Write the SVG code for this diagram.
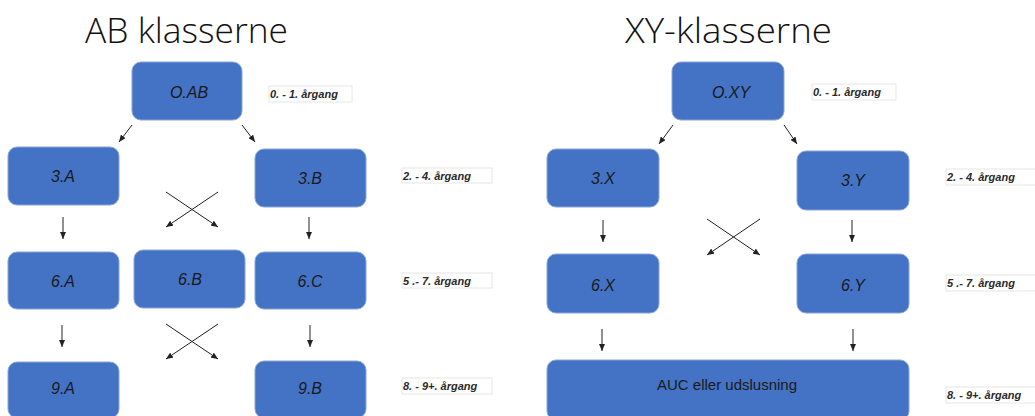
<svg xmlns="http://www.w3.org/2000/svg" width="1035" height="416" viewBox="0 0 1035 416">
<style>
.title{font-family:"Open Sans","Liberation Sans",Arial,sans-serif;font-size:35px;font-weight:300;fill:#111}
.box{fill:#4472C4;stroke:#8aa5d8;stroke-width:1}
.nt{font-family:"Liberation Sans",Arial,sans-serif;font-size:16px;font-style:italic;fill:#1a1a1a;text-anchor:middle}
.nt2{font-family:"Liberation Sans",Arial,sans-serif;font-size:15px;fill:#1a1a1a;text-anchor:middle}
.lb{fill:#fff;stroke:#e6e6e6;stroke-width:1}
.lt{font-family:"Liberation Sans",Arial,sans-serif;font-size:11px;font-style:italic;font-weight:bold;fill:#2a2a2a}
.ar{stroke:#222;stroke-width:1;fill:none;marker-end:url(#ah)}
</style>
<defs>
<marker id="ah" markerUnits="userSpaceOnUse" markerWidth="7" markerHeight="6" refX="7" refY="3" orient="auto">
<path d="M0,0 L7,3 L0,6 z" fill="#222"/>
</marker>
</defs>
<rect width="1035" height="416" fill="#fff"/>
<text class="title" x="85" y="43" textLength="203" lengthAdjust="spacingAndGlyphs">AB klasserne</text>
<text class="title" x="625" y="43" textLength="207" lengthAdjust="spacingAndGlyphs">XY-klasserne</text>

<g id="connectors">
<line class="ar" x1="132" y1="125" x2="119" y2="142"/>
<line class="ar" x1="242" y1="125" x2="255" y2="142"/>
<line class="ar" x1="166" y1="192" x2="218" y2="227"/>
<line class="ar" x1="218" y1="192" x2="166" y2="227"/>
<line class="ar" x1="63" y1="217" x2="63" y2="239"/>
<line class="ar" x1="309" y1="217" x2="309" y2="239"/>
<line class="ar" x1="166" y1="324" x2="218" y2="359"/>
<line class="ar" x1="218" y1="324" x2="166" y2="359"/>
<line class="ar" x1="62" y1="325" x2="62" y2="347"/>
<line class="ar" x1="310" y1="325" x2="310" y2="347"/>
<line class="ar" x1="673" y1="125" x2="659" y2="144"/>
<line class="ar" x1="784" y1="125" x2="797" y2="144"/>
<line class="ar" x1="707" y1="219" x2="760" y2="255"/>
<line class="ar" x1="760" y1="219" x2="707" y2="255"/>
<line class="ar" x1="603" y1="220" x2="603" y2="242"/>
<line class="ar" x1="852" y1="220" x2="852" y2="242"/>
<line class="ar" x1="602" y1="329" x2="602" y2="351"/>
<line class="ar" x1="853" y1="329" x2="853" y2="351"/>
</g>

<g id="n-0AB"><rect class="box" x="132" y="62" width="110" height="58" rx="9"/><text class="nt" x="189" y="98">O.AB</text></g>
<g id="n-3A"><rect class="box" x="8" y="147" width="111" height="58" rx="9"/><text class="nt" x="63" y="182">3.A</text></g>
<g id="n-3B"><rect class="box" x="255" y="149" width="111" height="58" rx="9"/><text class="nt" x="310" y="184">3.B</text></g>
<g id="n-6A"><rect class="box" x="8" y="252" width="111" height="57" rx="9"/><text class="nt" x="63" y="287">6.A</text></g>
<g id="n-6B"><rect class="box" x="134" y="250" width="111" height="58" rx="9"/><text class="nt" x="190" y="285">6.B</text></g>
<g id="n-6C"><rect class="box" x="255" y="252" width="111" height="57" rx="9"/><text class="nt" x="310" y="287">6.C</text></g>
<g id="n-9A"><rect class="box" x="8" y="362" width="111" height="56" rx="9"/><text class="nt" x="63" y="394">9.A</text></g>
<g id="n-9B"><rect class="box" x="255" y="361" width="111" height="57" rx="9"/><text class="nt" x="310" y="394">9.B</text></g>

<g id="n-0XY"><rect class="box" x="672" y="62" width="112" height="58" rx="9"/><text class="nt" x="731" y="98">O.XY</text></g>
<g id="n-3X"><rect class="box" x="547" y="149" width="112" height="58" rx="9"/><text class="nt" x="603" y="184">3.X</text></g>
<g id="n-3Y"><rect class="box" x="797" y="151" width="112" height="59" rx="9"/><text class="nt" x="853" y="186">3.Y</text></g>
<g id="n-6X"><rect class="box" x="547" y="254" width="112" height="59" rx="9"/><text class="nt" x="603" y="291">6.X</text></g>
<g id="n-6Y"><rect class="box" x="797" y="254" width="112" height="59" rx="9"/><text class="nt" x="853" y="291">6.Y</text></g>
<g id="n-AUC"><rect class="box" x="547" y="360" width="362" height="60" rx="9"/><text class="nt2" x="727" y="390">AUC eller udslusning</text></g>

<g id="lab-ab-1"><rect class="lb" x="269" y="86" width="83" height="16"/><text class="lt" x="270" y="98">0. - 1. årgang</text></g>
<g id="lab-ab-2"><rect class="lb" x="402" y="168" width="90" height="15"/><text class="lt" x="403" y="180">2. - 4. årgang</text></g>
<g id="lab-ab-3"><rect class="lb" x="402" y="273" width="90" height="15"/><text class="lt" x="403" y="285">5 .- 7. årgang</text></g>
<g id="lab-ab-4"><rect class="lb" x="402" y="378" width="90" height="16"/><text class="lt" x="403" y="390">8. - 9+. årgang</text></g>

<g id="lab-xy-1"><rect class="lb" x="812" y="84" width="84" height="16"/><text class="lt" x="813" y="96">0. - 1. årgang</text></g>
<g id="lab-xy-2"><rect class="lb" x="946" y="169" width="95" height="16"/><text class="lt" x="947" y="181">2. - 4. årgang</text></g>
<g id="lab-xy-3"><rect class="lb" x="946" y="275" width="95" height="16"/><text class="lt" x="947" y="287">5 .- 7. årgang</text></g>
<g id="lab-xy-4"><rect class="lb" x="946" y="387" width="95" height="16"/><text class="lt" x="947" y="399">8. - 9+. årgang</text></g>
</svg>
